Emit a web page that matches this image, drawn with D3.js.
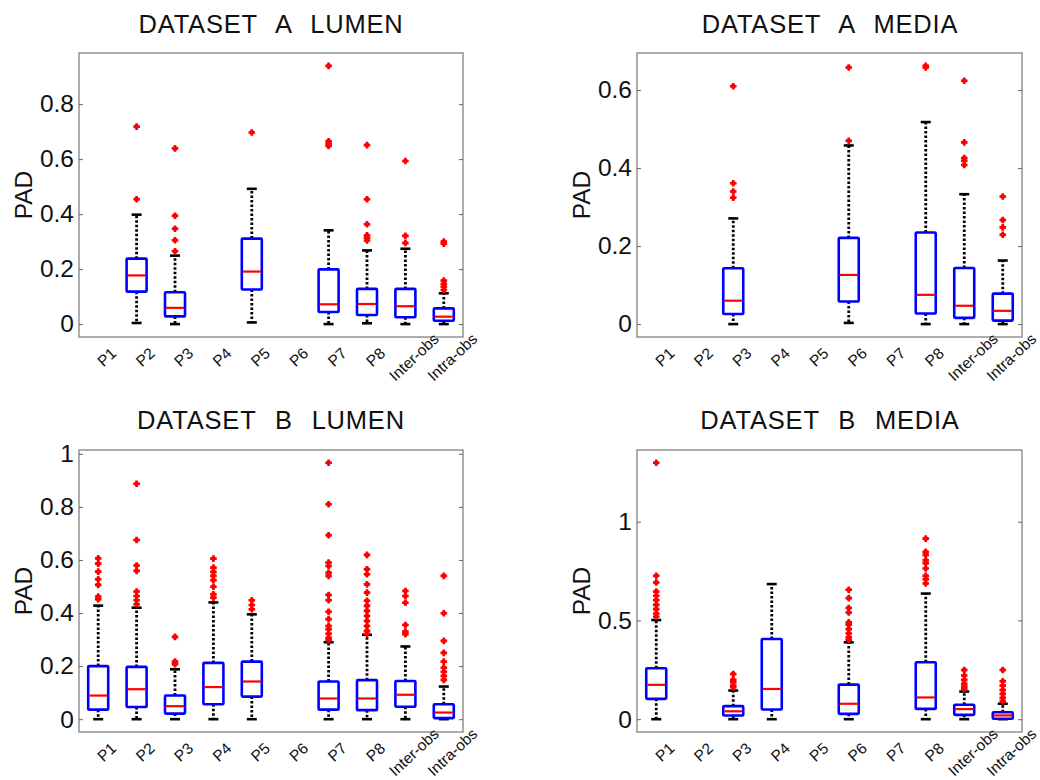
<!DOCTYPE html>
<html>
<head>
<meta charset="utf-8">
<script src="https://cdn.jsdelivr.net/npm/d3@7"></script>
<style>
  html, body { margin: 0; padding: 0; background: #fff; }
  svg { display: block; font-family: "Liberation Sans", Arial, Helvetica, sans-serif; }
</style>
</head>
<body>
<svg id="chart" width="1040" height="780"></svg>
<script>
const categories = ["P1","P2","P3","P4","P5","P6","P7","P8","Inter-obs","Intra-obs"];

// ---- DATASET A LUMEN ----
const aLumenLow  = [null, 0.004, 0,     null, 0.006, null, 0,     0.003, 0,     0];
const aLumenQ1   = [null, 0.118, 0.028, null, 0.126, null, 0.044, 0.033, 0.025, 0.012];
const aLumenMed  = [null, 0.177, 0.059, null, 0.191, null, 0.072, 0.073, 0.065, 0.027];
const aLumenQ3   = [null, 0.238, 0.116, null, 0.311, null, 0.199, 0.128, 0.128, 0.057];
const aLumenHigh = [null, 0.398, 0.249, null, 0.492, null, 0.341, 0.268, 0.274, 0.112];
const aLumenOut  = [[], [0.454, 0.718], [0.265, 0.305, 0.347, 0.394, 0.639], [], [0.697], [],
  [0.939, 0.665, 0.657, 0.648], [0.651, 0.454, 0.363, 0.323, 0.314, 0.304],
  [0.593, 0.321, 0.295], [0.300, 0.292, 0.158, 0.146, 0.136, 0.124]];
const aLumenTicks = [0, 0.2, 0.4, 0.6, 0.8];

// ---- DATASET A MEDIA ----
const aMediaLow  = [null, null, 0,     null, null, 0.003, null, 0,     0,     0];
const aMediaQ1   = [null, null, 0.026, null, null, 0.058, null, 0.027, 0.016, 0.009];
const aMediaMed  = [null, null, 0.060, null, null, 0.126, null, 0.075, 0.047, 0.034];
const aMediaQ3   = [null, null, 0.143, null, null, 0.221, null, 0.235, 0.144, 0.078];
const aMediaHigh = [null, null, 0.271, null, null, 0.458, null, 0.518, 0.333, 0.163];
const aMediaOut  = [[], [], [0.610, 0.361, 0.340, 0.324], [], [], [0.658, 0.470], [],
  [0.662, 0.658], [0.624, 0.466, 0.426, 0.419, 0.408], [0.327, 0.267, 0.248, 0.229]];
const aMediaTicks = [0, 0.2, 0.4, 0.6];

// ---- DATASET B LUMEN ----
const bLumenLow  = [0,     0,     0,     0,     0,     null, 0,     0,     0,     0];
const bLumenQ1   = [0.036, 0.046, 0.021, 0.056, 0.085, null, 0.036, 0.034, 0.047, 0.004];
const bLumenMed  = [0.089, 0.113, 0.049, 0.121, 0.142, null, 0.078, 0.078, 0.092, 0.025];
const bLumenQ3   = [0.200, 0.197, 0.089, 0.212, 0.217, null, 0.142, 0.147, 0.144, 0.056];
const bLumenHigh = [0.428, 0.420, 0.188, 0.440, 0.395, null, 0.290, 0.318, 0.274, 0.123];
const bLumenOut  = [
  [0.606, 0.586, 0.556, 0.527, 0.506, 0.462, 0.452],
  [0.887, 0.675, 0.579, 0.559, 0.481, 0.464, 0.448, 0.433],
  [0.310, 0.217, 0.207],
  [0.605, 0.571, 0.555, 0.540, 0.524, 0.499, 0.471, 0.458],
  [0.448, 0.430, 0.414],
  [],
  [0.966, 0.810, 0.693, 0.590, 0.577, 0.552, 0.540, 0.468, 0.448, 0.405, 0.377, 0.351, 0.339, 0.322, 0.307, 0.298],
  [0.619, 0.565, 0.546, 0.508, 0.477, 0.446, 0.427, 0.408, 0.389, 0.370, 0.351, 0.333, 0.322],
  [0.483, 0.464, 0.439, 0.355, 0.330, 0.320],
  [0.540, 0.399, 0.295, 0.250, 0.217, 0.194, 0.179, 0.163, 0.148]];
const bLumenTicks = [0, 0.2, 0.4, 0.6, 0.8, 1];

// ---- DATASET B MEDIA ----
const bMediaLow  = [0,     null, 0,     0,     null, 0,     null, 0,     0,     0];
const bMediaQ1   = [0.103, null, 0.019, 0.049, null, 0.027, null, 0.052, 0.022, 0.002];
const bMediaMed  = [0.174, null, 0.040, 0.153, null, 0.078, null, 0.110, 0.051, 0.019];
const bMediaQ3   = [0.258, null, 0.066, 0.406, null, 0.175, null, 0.288, 0.073, 0.035];
const bMediaHigh = [0.502, null, 0.145, 0.684, null, 0.389, null, 0.636, 0.140, 0.078];
const bMediaOut  = [
  [1.298, 0.726, 0.692, 0.646, 0.625, 0.603, 0.579, 0.557, 0.535, 0.519],
  [],
  [0.229, 0.199, 0.187, 0.170, 0.162],
  [],
  [],
  [0.655, 0.613, 0.563, 0.540, 0.490, 0.478, 0.456, 0.434, 0.414, 0.401],
  [],
  [0.914, 0.847, 0.832, 0.805, 0.790, 0.763, 0.726, 0.709, 0.687],
  [0.249, 0.221, 0.199, 0.179, 0.165, 0.153],
  [0.249, 0.192, 0.170, 0.148, 0.128, 0.108, 0.091]];
const bMediaTicks = [0, 0.5, 1];

const panels = [
  {title: "DATASET A LUMEN", low: aLumenLow, q1: aLumenQ1, med: aLumenMed, q3: aLumenQ3, high: aLumenHigh, out: aLumenOut, ticks: aLumenTicks,
   x0: 79, x1: 463, y0: 53, y1: 337, tx: 271, ty: 33},
  {title: "DATASET A MEDIA", low: aMediaLow, q1: aMediaQ1, med: aMediaMed, q3: aMediaQ3, high: aMediaHigh, out: aMediaOut, ticks: aMediaTicks,
   x0: 637, x1: 1022, y0: 53, y1: 337, tx: 830, ty: 33},
  {title: "DATASET B LUMEN", low: bLumenLow, q1: bLumenQ1, med: bLumenMed, q3: bLumenQ3, high: bLumenHigh, out: bLumenOut, ticks: bLumenTicks,
   x0: 79, x1: 463, y0: 450, y1: 732, tx: 271, ty: 429},
  {title: "DATASET B MEDIA", low: bMediaLow, q1: bMediaQ1, med: bMediaMed, q3: bMediaQ3, high: bMediaHigh, out: bMediaOut, ticks: bMediaTicks,
   x0: 637, x1: 1022, y0: 450, y1: 732, tx: 830, ty: 429}
];

const svg = d3.select("#chart");
const fmt = d => String(d);

panels.forEach(p => {
  const g = svg.append("g");
  const x = d3.scalePoint().domain(categories).range([p.x0, p.x1]).padding(0.5);
  const allVals = [].concat(p.high.filter(v => v != null), ...p.out, p.low.filter(v => v != null));
  const vmin = d3.min(allVals), vmax = d3.max(allVals);
  const pad = (vmax - vmin) * 0.05;
  const y = d3.scaleLinear().domain([vmin - pad, vmax + pad]).range([p.y1, p.y0]);

  // frame
  g.append("rect").attr("x", p.x0).attr("y", p.y0)
    .attr("width", p.x1 - p.x0).attr("height", p.y1 - p.y0)
    .attr("fill", "#fff").attr("stroke", "#8a8a8a").attr("stroke-width", 1.4);

  // left axis (ticks inward)
  const ax = g.append("g").attr("transform", `translate(${p.x0},0)`)
    .call(d3.axisLeft(y).tickValues(p.ticks).tickSizeInner(-4).tickSizeOuter(0).tickPadding(5).tickFormat(fmt));
  ax.select(".domain").remove();
  ax.selectAll(".tick line").attr("stroke", "#666");
  ax.selectAll(".tick text").attr("font-size", 24.5).attr("fill", "#111")
    .attr("font-family", "'Liberation Sans', Arial, sans-serif");

  // right axis (ticks inward, no labels)
  const axr = g.append("g").attr("transform", `translate(${p.x1},0)`)
    .call(d3.axisRight(y).tickValues(p.ticks).tickSizeInner(-4).tickSizeOuter(0).tickFormat(""));
  axr.select(".domain").remove();
  axr.selectAll(".tick line").attr("stroke", "#666");

  // x labels (rotated)
  const axb = g.append("g").attr("transform", `translate(0,${p.y1})`)
    .call(d3.axisBottom(x).tickSize(0).tickPadding(0));
  axb.select(".domain").remove();
  axb.selectAll(".tick text")
    .attr("font-size", 15.5).attr("fill", "#111")
    .attr("font-family", "'Liberation Sans', Arial, sans-serif")
    .attr("text-anchor", "middle")
    .attr("dominant-baseline", "central")
    .attr("y", 0).attr("dy", null)
    .attr("transform", "translate(8,20) rotate(-43)");

  // title
  g.append("text").attr("x", p.tx).attr("y", p.ty)
    .attr("text-anchor", "middle").attr("font-size", 25.5)
    .attr("letter-spacing", 0.8).attr("word-spacing", 11)
    .attr("fill", "#111").text(p.title);

  // y label
  g.append("text")
    .attr("transform", `translate(${p.x0 - 56},${(p.y0 + p.y1) / 2}) rotate(-90)`)
    .attr("text-anchor", "middle").attr("dominant-baseline", "central")
    .attr("font-size", 24.5).attr("fill", "#111").text("PAD");

  const idx = d3.range(categories.length).filter(i => p.med[i] != null);
  const bw = 20, cw = 10;

  idx.forEach(i => {
    const cx = x(categories[i]);
    const bg = g.append("g");
    // whiskers (dotted)
    bg.append("line").attr("x1", cx).attr("x2", cx).attr("y1", y(p.q3[i])).attr("y2", y(p.high[i]))
      .attr("stroke", "#000").attr("stroke-width", 2.8).attr("stroke-dasharray", "2.5,2");
    bg.append("line").attr("x1", cx).attr("x2", cx).attr("y1", y(p.q1[i])).attr("y2", y(p.low[i]))
      .attr("stroke", "#000").attr("stroke-width", 2.8).attr("stroke-dasharray", "2.5,2");
    // caps
    [p.high[i], p.low[i]].forEach(v => {
      bg.append("line").attr("x1", cx - cw / 2).attr("x2", cx + cw / 2).attr("y1", y(v)).attr("y2", y(v))
        .attr("stroke", "#000").attr("stroke-width", 2.6);
    });
    // box
    bg.append("rect").attr("x", cx - bw / 2).attr("y", y(p.q3[i]))
      .attr("width", bw).attr("height", y(p.q1[i]) - y(p.q3[i]))
      .attr("fill", "#fff").attr("stroke", "#0000ff").attr("stroke-width", 2.6)
      .attr("rx", 1);
    // median
    bg.append("line").attr("x1", cx - bw / 2 + 1).attr("x2", cx + bw / 2 - 1)
      .attr("y1", y(p.med[i])).attr("y2", y(p.med[i]))
      .attr("stroke", "#ff0000").attr("stroke-width", 2.2);
    // outliers
    p.out[i].forEach(v => {
      const oy = y(v);
      bg.append("path")
        .attr("d", `M${cx - 3.3},${oy}H${cx + 3.3}M${cx},${oy - 3.3}V${oy + 3.3}`)
        .attr("stroke", "#ff0000").attr("stroke-width", 2.6);
      bg.append("circle").attr("cx", cx).attr("cy", oy).attr("r", 2.4)
        .attr("fill", "#ff0000");
    });
  });
});
</script>
</body>
</html>
